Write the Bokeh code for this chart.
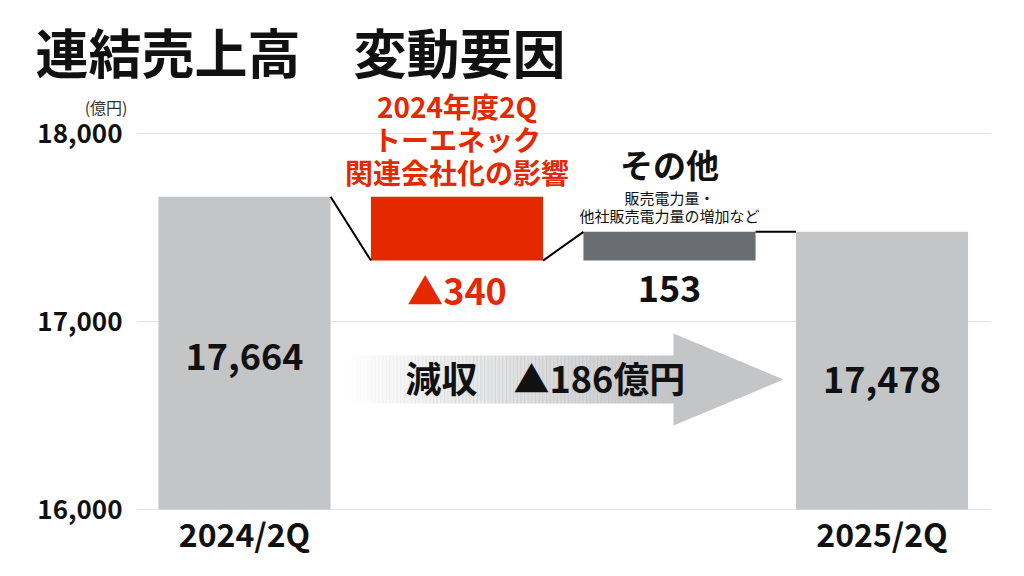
from bokeh.plotting import figure
from bokeh.models import Range1d, FixedTicker, Label, NumeralTickFormatter
from bokeh.embed import file_html
from bokeh.resources import INLINE
import numpy as np

# ---------------- data ----------------
bar_labels = ["2024/2Q", "2025/2Q"]
start_value = 17664          # 2024/2Q
change_toenec = -340         # 2024年度2Q トーエネック関連会社化の影響
change_other = 153           # その他
end_value = 17478            # 2025/2Q
total_change = -186          # 減収
y_ticks = [16000, 17000, 18000]
base_value = 16000

# ---------------- style ----------------
FONT = "Noto Sans CJK JP"
GRAY = "#C4C5C7"
RED = "#E42800"
DARK = "#6A6D71"
BLACK = "#111111"

# pixel calibration helpers used only for placing texts / decorations
PX_PER_UNIT = 0.188
X_STEP = 212.5


def ys(py):
    return base_value + (509 - py) / PX_PER_UNIT


def xs(px):
    return (px - 244) / X_STEP


p = figure(width=1024, height=576, output_backend="svg", toolbar_location=None,
           x_range=Range1d(xs(0), xs(990)), y_range=Range1d(ys(576), ys(0)),
           min_border_left=0, min_border_right=34, min_border_top=0, min_border_bottom=0)
p.outline_line_color = None
p.background_fill_color = "white"
p.border_fill_color = "white"
p.xgrid.visible = False
p.ygrid.visible = False

# horizontal gridlines at the y ticks (spanning the plotting area)
p.segment(x0=[xs(137)] * len(y_ticks), x1=[xs(990)] * len(y_ticks), y0=y_ticks, y1=y_ticks,
          line_color="#E4E4E4", line_width=1)

# y axis
p.yaxis.fixed_location = xs(137)
p.yaxis.ticker = FixedTicker(ticks=y_ticks)
p.yaxis.formatter = NumeralTickFormatter(format="0,0")
p.yaxis.axis_line_color = None
p.yaxis.major_tick_line_color = None
p.yaxis.minor_tick_line_color = None
p.yaxis.major_tick_out = 0
p.yaxis.major_tick_in = 0
p.yaxis.major_label_standoff = 15
p.yaxis.major_label_text_font = FONT
p.yaxis.major_label_text_font_style = "bold"
p.yaxis.major_label_text_font_size = "26px"
p.yaxis.major_label_text_color = BLACK

# x axis (drawn along the 16,000 baseline)
p.xaxis.fixed_location = base_value
p.xaxis.ticker = FixedTicker(ticks=[0, 3])
p.xaxis.major_label_overrides = {0: bar_labels[0], 3: bar_labels[1]}
p.xaxis.axis_line_color = None
p.xaxis.major_tick_line_color = None
p.xaxis.minor_tick_line_color = None
p.xaxis.major_tick_out = 0
p.xaxis.major_tick_in = 0
p.xaxis.major_label_standoff = 0
p.xaxis.major_label_text_font = FONT
p.xaxis.major_label_text_font_style = "bold"
p.xaxis.major_label_text_font_size = "32px"
p.xaxis.major_label_text_color = BLACK

# waterfall bars
W = 0.81
mid_level = start_value + change_toenec
other_top = mid_level + change_other
bar_x = [0, 1, 2, 3]
bar_top = [start_value, start_value, other_top, end_value]
bar_bottom = [base_value, mid_level, mid_level, base_value]
bar_color = [GRAY, RED, DARK, GRAY]
p.vbar(x=bar_x, width=W, top=bar_top, bottom=bar_bottom, fill_color=bar_color, line_color=None)

# connectors
h = W / 2
p.segment(x0=[0 + h, 1 + h, 2 + h], y0=[start_value, mid_level, other_top],
          x1=[1 - h, 2 - h, 3 - h], y1=[mid_level, other_top, end_value],
          line_color="#000000", line_width=2)

# gradient arrow (decoration)
AX0, AX1, ATIP = xs(345), xs(673), xs(783)
AB_TOP, AB_BOT = ys(355), ys(403)
AH_TOP, AH_BOT, AMID = ys(333), ys(425), ys(379)
n = 90
edges = np.linspace(AX0, AX1, n + 1)
alphas = np.linspace(0.0, 1.0, n)
p.quad(left=edges[:-1], right=edges[1:] + (edges[1] - edges[0]) * 0.3,
       top=AB_TOP, bottom=AB_BOT, fill_color=GRAY, fill_alpha=alphas, line_color=None)
p.patch(x=[AX1, ATIP, AX1], y=[AH_TOP, AMID, AH_BOT], fill_color=GRAY, line_color=None)


def lab(text, x, y, size, color=BLACK, align="center", style="bold", baseline="middle"):
    p.add_layout(Label(x=x, y=y, text=text, text_font=FONT, text_font_size=size,
                       text_font_style=style, text_color=color, text_align=align,
                       text_baseline=baseline))


# title & unit
lab("連結売上高　変動要因", xs(35), ys(50), "53px", align="left")
lab("(億円)", xs(127), ys(106), "16px", color="#333333", align="right", style="normal")

# bar value labels
lab(f"{start_value:,}", 0, ys(356), "36px")
lab(f"{end_value:,}", 3, ys(379), "36px")
lab(f"▲{abs(change_toenec)}", 1, mid_level - 28 / PX_PER_UNIT, "36px", color=RED)
lab(f"{change_other}", 2, mid_level - 28 / PX_PER_UNIT, "36px")

# headers
for txt, py in zip(["2024年度2Q", "トーエネック", "関連会社化の影響"], [105, 138, 171]):
    lab(txt, 1, ys(py), "28px", color=RED)
lab("その他", 2, ys(163), "33px")
lab("販売電力量・", 2, ys(197), "15px", style="normal")
lab("他社販売電力量の増加など", 2, ys(215), "15px", style="normal")

# arrow text
lab(f"減収　▲{abs(total_change)}億円", xs(405), ys(376), "36px", align="left")

open("out.html", "w").write(file_html(p, INLINE))
